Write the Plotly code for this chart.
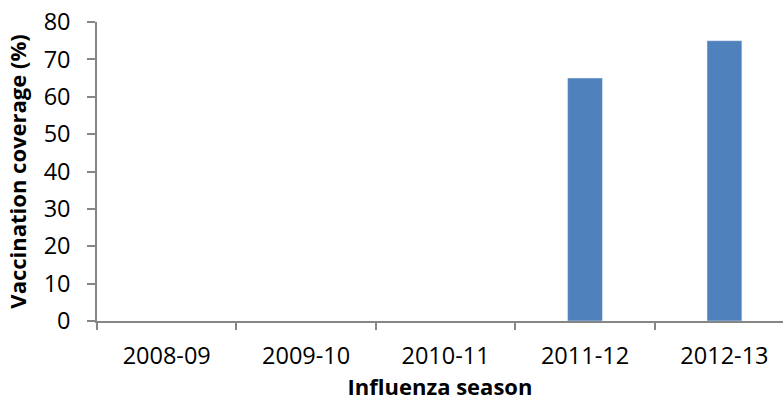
import plotly.graph_objects as go

seasons = ["2008-09", "2009-10", "2010-11", "2011-12", "2012-13"]
coverage = [None, None, None, 65, 75]
y_ticks = [0, 10, 20, 30, 40, 50, 60, 70, 80]

axis_color = "#868686"
font_family = "Open Sans, sans-serif"

fig = go.Figure(go.Bar(x=seasons, y=coverage, marker_color="#4F81BD", width=0.25))

fig.update_layout(
    width=783, height=408,
    margin=dict(l=97, r=0, t=22, b=87, autoexpand=False),
    plot_bgcolor="white", paper_bgcolor="white",
    showlegend=False,
    font=dict(family=font_family, color="black", size=23),
)
fig.update_xaxes(
    type="category", range=[-0.5, 4.42], automargin=False,
    showline=True, linecolor=axis_color, linewidth=1.5,
    ticks="outside", ticklen=7, tickcolor=axis_color, tickwidth=1.5,
    tickson="boundaries", showgrid=False,
    tickfont=dict(size=23.5),
    ticklabelstandoff=13, ticklabeloverflow="allow",
    title=dict(text="<b>Influenza season</b>", font=dict(size=22), standoff=10),
)
fig.update_yaxes(
    range=[0, 80], tickvals=y_ticks, automargin=False,
    showline=True, linecolor=axis_color, linewidth=1.5,
    ticks="outside", ticklen=8, tickcolor=axis_color, tickwidth=1.5,
    showgrid=False, zeroline=False,
    tickfont=dict(size=23.5),
    ticklabelstandoff=12, ticklabeloverflow="allow",
    title=dict(text="<b>Vaccination coverage (%)</b>", font=dict(size=22), standoff=11),
)
fig.write_html(
    "out.html",
    config={"displayModeBar": False},
    post_script="document.body.style.margin='0';",
)
